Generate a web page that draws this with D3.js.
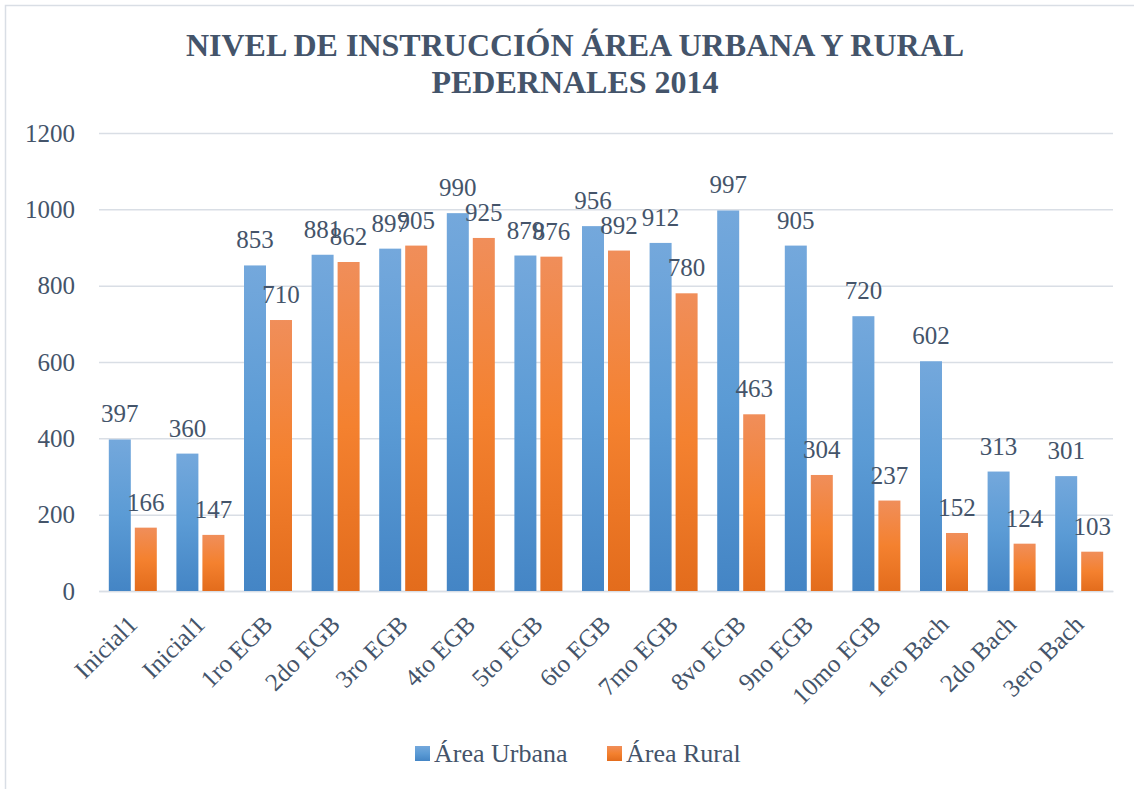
<!DOCTYPE html>
<html><head><meta charset="utf-8">
<script src="https://cdn.jsdelivr.net/npm/d3@7"></script>
<style>
html,body{margin:0;padding:0;background:#fff;}
svg{display:block;}
</style></head>
<body>
<svg id="chart" width="1134" height="789"></svg>
<script>
const categories = ["Inicial1","Inicial1","1ro EGB","2do EGB","3ro EGB","4to EGB","5to EGB","6to EGB","7mo EGB","8vo EGB","9no EGB","10mo EGB","1ero Bach","2do Bach","3ero Bach"];
const urbana = [397,360,853,881,897,990,879,956,912,997,905,720,602,313,301];
const rural  = [166,147,710,862,905,925,876,892,780,463,304,237,152,124,103];
const seriesNames = ["Área Urbana","Área Rural"];
const yTicks = [0,200,400,600,800,1000,1200];
const titleLines = ["NIVEL DE INSTRUCCIÓN ÁREA URBANA Y RURAL","PEDERNALES 2014"];

(function(){
const FF = "'Liberation Serif','Times New Roman',serif";
const TC = "#44546A";
const FS = 25;
const svg = d3.select("#chart");
const W = 1134, H = 789;
const pL = 99, pR = 1113, pT = 133, pB = 591;

svg.append("rect").attr("x",5.5).attr("y",5.5).attr("width",W+10).attr("height",H+10)
  .attr("fill","none").attr("stroke","#D9DEE5").attr("stroke-width",1.5);

const defs = svg.append("defs");
function grad(id, c1, c2, c3){
  const g = defs.append("linearGradient").attr("id",id).attr("x1",0).attr("y1",0).attr("x2",0).attr("y2",1);
  g.append("stop").attr("offset","0%").attr("stop-color",c1);
  g.append("stop").attr("offset","50%").attr("stop-color",c2);
  g.append("stop").attr("offset","100%").attr("stop-color",c3);
}
grad("gBlue","#74A8DC","#5B9BD5","#4485C5");
grad("gOrange","#F08E5A","#F4812F","#E36C1C");

const x = d3.scaleBand().domain(d3.range(categories.length)).range([pL,pR]).paddingInner(0).paddingOuter(0);
const y = d3.scaleLinear().domain([0,1200]).range([pB,pT]);

function txt(sel, size, bold){
  return sel.style("font-family",FF).style("font-size",size+"px").style("fill",TC)
    .style("font-weight",bold?"bold":"normal");
}

txt(svg.append("text").attr("x",575).attr("y",56).attr("text-anchor","middle"),32,true).text(titleLines[0]);
txt(svg.append("text").attr("x",575).attr("y",93).attr("text-anchor","middle"),32,true).text(titleLines[1]);

const yAxis = d3.axisLeft(y).tickValues(yTicks).tickSize(-(pR-pL)).tickPadding(24).tickFormat(d3.format("d"));
const gy = svg.append("g").attr("transform",`translate(${pL},0)`).call(yAxis);
gy.select(".domain").remove();
gy.selectAll(".tick line").attr("stroke","#D9DEE5").attr("stroke-width",1.5);
txt(gy.selectAll(".tick text"),FS).attr("dy","0.32em");

const xAxis = d3.axisBottom(x).tickSize(0).tickFormat(i=>categories[i]);
const gx = svg.append("g").attr("transform",`translate(0,${pB})`).call(xAxis);
gx.select(".domain").attr("stroke","#D9DEE5").attr("stroke-width",1.5);
txt(gx.selectAll(".tick text"),FS)
  .attr("text-anchor","end").attr("dy","0").attr("y",0)
  .attr("transform","translate(6,35) rotate(-45)");

const bw = 22, gap = 4;
const bandC = i => x(i) + x.bandwidth()/2;

const data = categories.map((c,i)=>({i, u:urbana[i], r:rural[i]}));
const g = svg.append("g");
g.selectAll("rect.u").data(data).join("rect").attr("class","u")
  .attr("x",d=>bandC(d.i)-bw-gap/2).attr("width",bw)
  .attr("y",d=>y(d.u)).attr("height",d=>y(0)-y(d.u)).attr("fill","url(#gBlue)");
g.selectAll("rect.r").data(data).join("rect").attr("class","r")
  .attr("x",d=>bandC(d.i)+gap/2).attr("width",bw)
  .attr("y",d=>y(d.r)).attr("height",d=>y(0)-y(d.r)).attr("fill","url(#gOrange)");

txt(g.selectAll("text.lu").data(data).join("text").attr("class","lu")
  .attr("x",d=>bandC(d.i)-bw/2-gap/2).attr("y",d=>y(d.u)-17).attr("text-anchor","middle"),FS).text(d=>d.u);
txt(g.selectAll("text.lr").data(data).join("text").attr("class","lr")
  .attr("x",d=>bandC(d.i)+bw/2+gap/2).attr("y",d=>y(d.r)-17).attr("text-anchor","middle"),FS).text(d=>d.r);

const leg = svg.append("g");
const legX = [415, 607];
const legFill = ["url(#gBlue)","url(#gOrange)"];
seriesNames.forEach((n,k)=>{
  leg.append("rect").attr("x",legX[k]).attr("y",746).attr("width",15).attr("height",15).attr("fill",legFill[k]);
  txt(leg.append("text").attr("x",legX[k]+19).attr("y",762),26).text(n);
});
})();
</script>
</body></html>
